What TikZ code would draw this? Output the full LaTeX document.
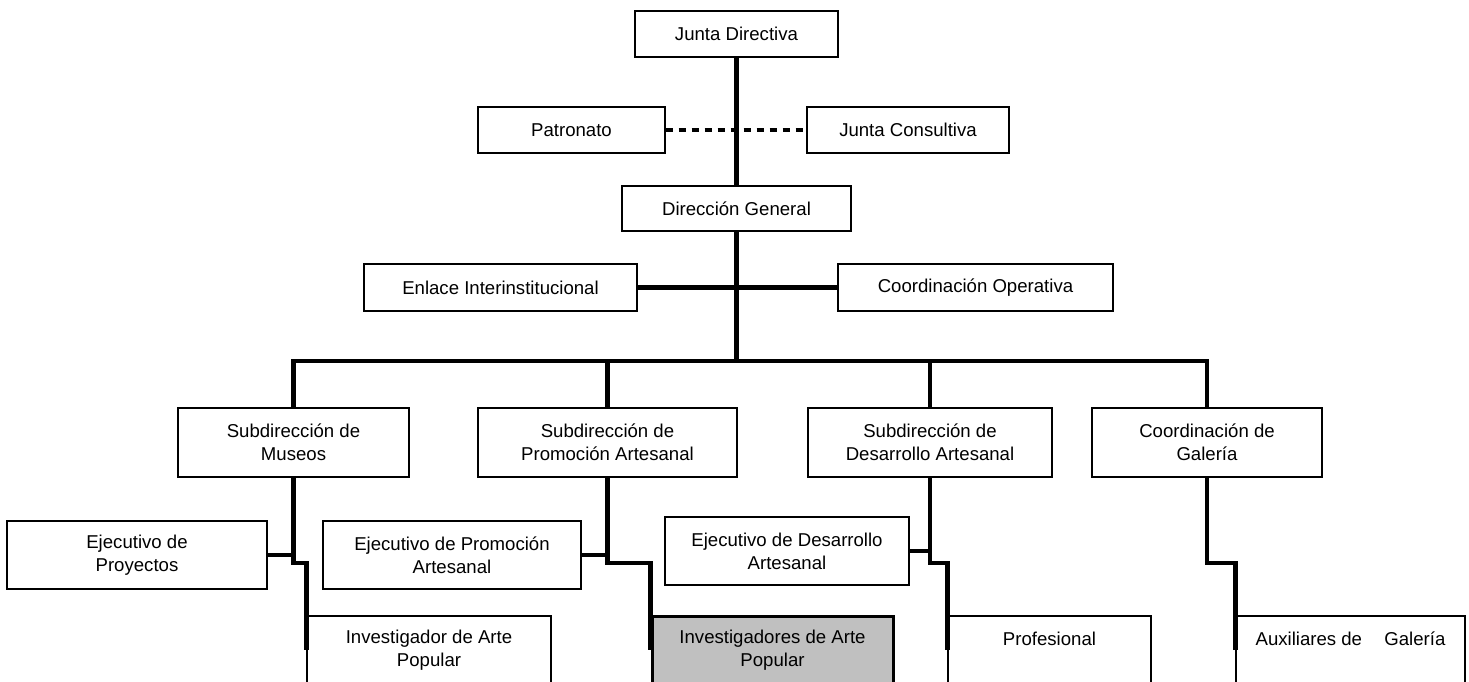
\documentclass[tikz,border=0pt]{standalone}
\usepackage{fontspec}
\setmainfont{Liberation Sans}
\begin{document}
\begin{tikzpicture}[x=0.5pt,y=-0.5pt,
  box/.style={draw, line width=0.6pt, inner sep=0pt, align=center, fill=white,
    font=\fontsize{9.3}{11.5}\selectfont},
  hl/.style={box, fill={rgb,255:red,192;green,192;blue,192}, line width=1.5pt},
  conn/.style={line width=2.3pt},
  dotline/.style={line width=2.3pt, dash pattern=on 3.5pt off 3pt}]
\useasboundingbox (0,0) rectangle (1469,681);
% boxes
\node[box, minimum width=101.5pt, minimum height=23pt] (jd) at (736.5,34) {Junta Directiva};
\node[box, minimum width=93.5pt, minimum height=23pt] (pat) at (571.5,130) {Patronato};
\node[box, minimum width=101pt, minimum height=23pt] (jc) at (908,130) {Junta Consultiva};
\node[box, minimum width=114.5pt, minimum height=22.5pt] (dg) at (736.5,208.5) {Dirección General};
\node[box, minimum width=136.5pt, minimum height=23.5pt] (enl) at (500.5,287.5) {Enlace Interinstitucional};
\node[box, minimum width=137.5pt, minimum height=23.5pt] (coo) at (975.5,287.5) {Coordinación Operativa};
\node[box, minimum width=115.5pt, minimum height=34.5pt] (mus) at (293.5,442.5) {Subdirección de\\Museos};
\node[box, minimum width=129.5pt, minimum height=34.5pt] (pro) at (607.5,442.5) {Subdirección de\\Promoción Artesanal};
\node[box, minimum width=122pt, minimum height=34.5pt] (des) at (930,442.5) {Subdirección de\\Desarrollo Artesanal};
\node[box, minimum width=115pt, minimum height=34.5pt] (gal) at (1207,442.5) {Coordinación de\\Galería};
\node[box, minimum width=130pt, minimum height=34pt] (ejp) at (137,555) {Ejecutivo de\\Proyectos};
\node[box, minimum width=129pt, minimum height=34pt] (ejr) at (452,555) {Ejecutivo de Promoción\\Artesanal};
\node[box, minimum width=122pt, minimum height=34pt] (ejd) at (787,551) {Ejecutivo de Desarrollo\\Artesanal};
\node[box, minimum width=122pt, minimum height=34.5pt] (inv) at (429,650.5) {Investigador de Arte\\Popular};
\node[hl, minimum width=120.5pt, minimum height=34.5pt] (ivs) at (772.5,650.5) {Investigadores de Arte\\Popular};
\node[box, minimum width=101.5pt, minimum height=34.5pt] (prf) at (1049.5,650.5) {Profesional\\\mbox{}};
\node[box, minimum width=114.5pt, minimum height=34.5pt] (aux) at (1350.5,650.5) {Auxiliares de\hspace{1.2em}Galería\\\mbox{}};
% top connectors
\draw[conn] (jd.south) -- (dg.north);
\draw[dotline] (pat.east) -- (jc.west);
\draw[conn] (enl.east) -- (coo.west);
\coordinate (bus) at (736.5,361);
\draw[conn] (dg.south) -- (bus);
\draw[conn] (mus.north) -- (mus.north |- bus) -- (gal.north |- bus) -- (gal.north);
\draw[conn] (pro.north) -- (pro.north |- bus);
\draw[conn] (des.north) -- (des.north |- bus);
% lower connectors
\coordinate (jog) at (0,563);
\coordinate (stop) at (0,650);
\draw[conn] (mus.south) -- (mus.south |- jog) -- (inv.north west |- jog) -- (inv.north west |- stop);
\draw[conn] (pro.south) -- (pro.south |- jog) -- (ivs.north west |- jog) -- (ivs.north west |- stop);
\draw[conn] (des.south) -- (des.south |- jog) -- (prf.north west |- jog) -- (prf.north west |- stop);
\draw[conn] (gal.south) -- (gal.south |- jog) -- (aux.north west |- jog) -- (aux.north west |- stop);
\draw[conn] (ejp.east) -- (ejp.east -| mus.south);
\draw[conn] (ejr.east) -- (ejr.east -| pro.south);
\draw[conn] (ejd.east) -- (ejd.east -| des.south);
\end{tikzpicture}
\end{document}
